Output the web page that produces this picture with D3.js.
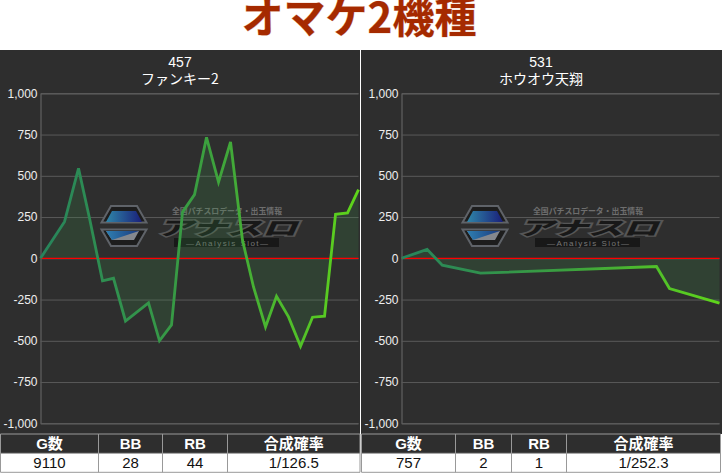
<!DOCTYPE html>
<html><head><meta charset="utf-8">
<script src="https://cdnjs.cloudflare.com/ajax/libs/d3/7.8.5/d3.min.js"></script>
<style>
html,body{margin:0;padding:0;background:#fff;overflow:hidden}
svg{display:block}
text{font-family:"Liberation Sans",sans-serif}
</style></head><body>
<svg id="c" width="722" height="476"></svg>
<script>
const chartTitle = "オマケ2機種";
const yTicks = [1000,750,500,250,0,-250,-500,-750,-1000];
const tableHead = ["G数","BB","RB","合成確率"];

const machine1 = "457", name1 = "ファンキー2";
const games1 = [0,688,1089,1404,1776,2091,2435,3094,3409,3753,4068,4412,4756,5100,5444,5787,6102,6446,6761,7105,7449,7793,8137,8452,8796,9110];
const values1 = [0,222,545,243,-137,-121,-380,-270,-500,-404,280,386,733,462,705,110,-174,-416,-230,-355,-533,-357,-351,267,275,416];
const table1 = ["9110","28","44","1/126.5"];

const machine2 = "531", name2 = "ホウオウ天翔";
const games2 = [0,61,97,188,607,638,757];
const values2 = [0,54,-42,-90,-50,-183,-272];
const table2 = ["757","2","1","1/252.3"];

const svg = d3.select("#c");
const defs = svg.append("defs");

const blue = defs.append("linearGradient").attr("id","wmBlue");
blue.append("stop").attr("offset","0%").attr("stop-color","#2f86a8");
blue.append("stop").attr("offset","100%").attr("stop-color","#1a1f7a");
const blue2 = defs.append("linearGradient").attr("id","wmBlue2");
blue2.append("stop").attr("offset","0%").attr("stop-color","#2f7fb0");
blue2.append("stop").attr("offset","100%").attr("stop-color","#1a3a80");

svg.append("text").attr("x",359).attr("y",33).attr("text-anchor","middle")
  .style("font-family","'Noto Sans CJK JP'").style("font-weight",700).style("font-size","42px")
  .attr("fill","#a52a00").attr("stroke","#e8b8a0").attr("stroke-width",0.7).attr("paint-order","stroke")
  .text(chartTitle);

function watermark(g){
  const w = g.append("g").style("pointer-events","none");
  const hexTop = "M101.5,222.5 L111,206 L137,206 L146.5,222.5 Z", hexBot="M101.5,229.5 L146.5,229.5 L137,246 L111,246 Z";
  w.append("path").attr("d",hexTop).attr("fill","#1d1d1d").attr("stroke","#5f6369").attr("stroke-width",2);
  w.append("path").attr("d",hexBot).attr("fill","#1d1d1d").attr("stroke","#5f6369").attr("stroke-width",2);
  w.append("path").attr("d","M106,222 L112,211 L136,211 L142,222 Z").attr("fill","url(#wmBlue)");
  w.append("path").attr("d","M106,231 L139,231 L134,240 L112,240 Z").attr("fill","#85888e");
  w.append("path").attr("d","M106,231 L139,231 L112,240 Z").attr("fill","url(#wmBlue2)");
  w.append("text").attr("x",227).attr("y",214).attr("text-anchor","middle")
    .style("font-family","'Noto Sans CJK JP'").style("font-weight",700).style("font-size","8px")
    .attr("textLength",110).attr("lengthAdjust","spacingAndGlyphs").attr("fill","#6e6e6e")
    .text("全国パチスロデータ・出玉情報");
  w.append("text").attr("x",227).attr("y",235).attr("text-anchor","middle")
    .style("font-family","'Noto Sans CJK JP'").style("font-weight",900).style("font-size","19px").style("font-style","italic")
    .attr("textLength",140).attr("lengthAdjust","spacingAndGlyphs")
    .attr("fill","#181818").attr("stroke","#565656").attr("stroke-width",2.6).attr("paint-order","stroke")
    .attr("stroke-linejoin","miter")
    .text("アナスロ");
  w.append("rect").attr("x",174).attr("y",238).attr("width",105).attr("height",9).attr("fill","#181818");
  w.append("text").attr("x",227).attr("y",246).attr("text-anchor","middle")
    .style("font-size","8px").attr("textLength",82).attr("lengthAdjust","spacing").attr("fill","#777").text("―Analysis Slot―");
}

function panel(x0, pw, title1, title2, games, values, maxG, table, cols, id){
  const g = svg.append("g").attr("transform",`translate(${x0},0)`);
  g.append("rect").attr("x",0).attr("y",50).attr("width",pw).attr("height",384).attr("fill","#2e2e2e");

  const x = d3.scaleLinear().domain([0,maxG]).range([40.5,358.5]);
  const y = d3.scaleLinear().domain([-1000,1000]).range([423.3,93.3]);

  g.append("text").attr("x",180).attr("y",67).attr("text-anchor","middle").attr("fill","#fff").style("font-size","14px").text(title1);
  g.append("text").attr("x",180).attr("y",84).attr("text-anchor","middle").attr("fill","#fff")
    .style("font-family","'Noto Sans CJK JP'").style("font-size","14px").text(title2);

  const fmt = d3.format(",");
  const axis = d3.axisLeft(y).tickValues(yTicks).tickSize(-318).tickPadding(3)
    .tickFormat(d => fmt(d).replace("\u2212","-"));
  const ag = g.append("g").attr("transform","translate(40.5,0)").call(axis);
  ag.select(".domain").attr("stroke","#6a6a6a").attr("stroke-width",1);
  ag.selectAll(".tick line").attr("stroke","#5a5a5a").attr("stroke-width",1);
  ag.selectAll(".tick text").attr("fill","#eee").style("font-size","12px").style("font-family","'Liberation Sans'");

  watermark(g);

  const pts = games.map((d,i)=>[d,values[i]]);
  g.append("path").datum(pts).attr("fill","#3a8a48").attr("fill-opacity",.22)
    .attr("d",d3.area().x(d=>x(d[0])).y0(y(0)).y1(d=>y(d[1])));

  g.append("line").attr("x1",x(0)).attr("x2",x(maxG)).attr("y1",y(0)).attr("y2",y(0)).attr("stroke","#f00").attr("stroke-width",1.2);

  const grad = defs.append("linearGradient").attr("id",id).attr("gradientUnits","userSpaceOnUse")
    .attr("x1",x(0)).attr("x2",x(maxG)).attr("y1",0).attr("y2",0);
  grad.append("stop").attr("offset","0%").attr("stop-color","#27845c");
  grad.append("stop").attr("offset","50%").attr("stop-color","#3a9e40");
  grad.append("stop").attr("offset","100%").attr("stop-color","#5fd61a");
  g.append("path").datum(pts).attr("fill","none").attr("stroke",`url(#${id})`).attr("stroke-width",2.8)
    .attr("stroke-linejoin","miter")
    .attr("d",d3.line().x(d=>x(d[0])).y(d=>y(d[1])));

  const t = g.append("g");
  const rowY=[434,453.3,472.3];
  t.append("rect").attr("x",cols[0]).attr("y",rowY[0]).attr("width",cols[4]-cols[0]).attr("height",rowY[1]-rowY[0]).attr("fill","#2e2e2e");
  t.append("rect").attr("x",cols[0]).attr("y",rowY[1]).attr("width",cols[4]-cols[0]).attr("height",rowY[2]-rowY[1]).attr("fill","#fff");
  rowY.forEach(r=>t.append("line").attr("x1",cols[0]).attr("x2",cols[4]).attr("y1",r).attr("y2",r).attr("stroke","#999"));
  cols.forEach(c=>t.append("line").attr("x1",c).attr("x2",c).attr("y1",rowY[0]).attr("y2",rowY[2]).attr("stroke","#999"));
  tableHead.forEach((h,i)=>{
    const cx=(cols[i]+cols[i+1])/2;
    t.append("text").attr("x",cx).attr("y",449).attr("text-anchor","middle").attr("fill","#fff")
      .style("font-family","'Liberation Sans','Noto Sans CJK JP'").style("font-weight",700).style("font-size","15px").text(h);
    t.append("text").attr("x",cx).attr("y",468).attr("text-anchor","middle").attr("fill","#111")
      .style("font-size","15px").text(table[i]);
  });
}
panel(0,360,machine1,name1,games1,values1,9110,table1,[0.5,98.5,162.5,227.5,360],"g1");
panel(361,361,machine2,name2,games2,values2,757,table2,[0.5,94.5,150.5,205.5,359.5],"g2");
</script>
</body></html>
